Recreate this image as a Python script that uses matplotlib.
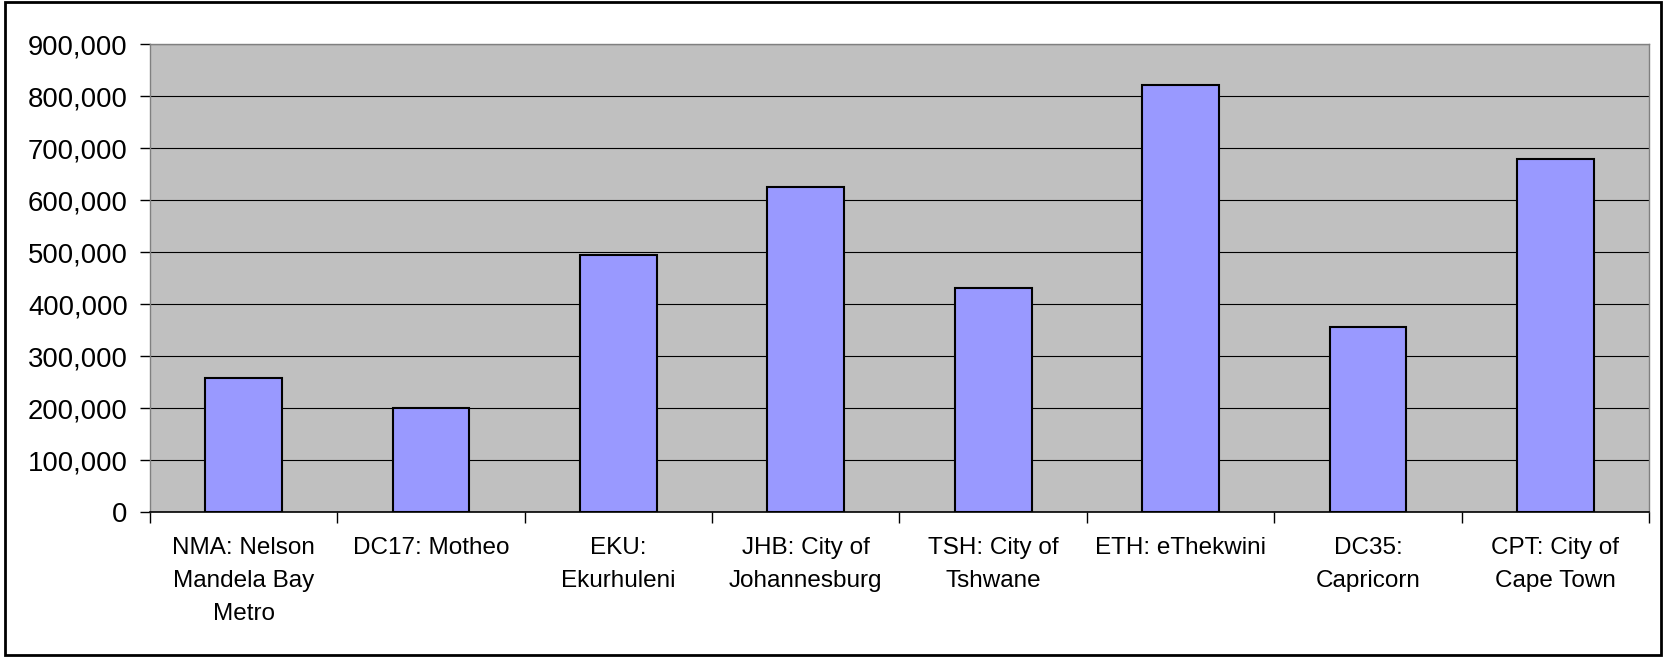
import matplotlib.pyplot as plt
from matplotlib.patches import Rectangle
from matplotlib.ticker import FuncFormatter, MultipleLocator
import numpy as np

categories = ['NMA: Nelson\nMandela Bay\nMetro', 'DC17: Motheo', 'EKU:\nEkurhuleni',
              'JHB: City of\nJohannesburg', 'TSH: City of\nTshwane', 'ETH: eThekwini',
              'DC35:\nCapricorn', 'CPT: City of\nCape Town']
values = [258500, 199500, 494000, 625500, 431000, 820500, 356500, 678000]

plt.rcParams['font.family'] = ['Liberation Sans', 'DejaVu Sans']

fig = plt.figure(figsize=(16.66, 6.57), dpi=100)
ax = fig.add_axes([0.090, 0.2207, 0.8998, 0.7123])

x = np.arange(len(categories))
ax.bar(x, values, width=0.41, color='#9999FF', edgecolor='black', linewidth=1.5, zorder=3)

ax.set_facecolor('#C0C0C0')
ax.set_xlim(-0.5, len(categories) - 0.5)
ax.set_ylim(0, 900000)
ax.yaxis.set_major_locator(MultipleLocator(100000))
ax.yaxis.set_major_formatter(FuncFormatter(lambda v, p: f'{int(v):,}'))
ax.grid(axis='y', color='black', linewidth=0.8, zorder=1)

ax.set_xticks(x)
ax.set_xticklabels(categories, fontsize=17.5, linespacing=1.65, va='top')
ax.tick_params(axis='x', which='major', length=0, pad=18)
ax.set_xticks(np.arange(-0.5, len(categories)), minor=True)
ax.tick_params(axis='x', which='minor', length=8, width=1, direction='out')
ax.tick_params(axis='y', labelsize=19.8, length=7, width=1, pad=9, direction='out')

for s in ['left', 'top', 'right']:
    ax.spines[s].set_color('#808080')
    ax.spines[s].set_linewidth(1)
ax.spines['bottom'].set_color('black')
ax.spines['bottom'].set_linewidth(1.2)
ax.spines['bottom'].set_zorder(4)

fig.patches.append(Rectangle((0.003, 0.003), 0.994, 0.994, transform=fig.transFigure,
                             fill=False, edgecolor='black', linewidth=2))

fig.savefig('out.png', dpi=100)
